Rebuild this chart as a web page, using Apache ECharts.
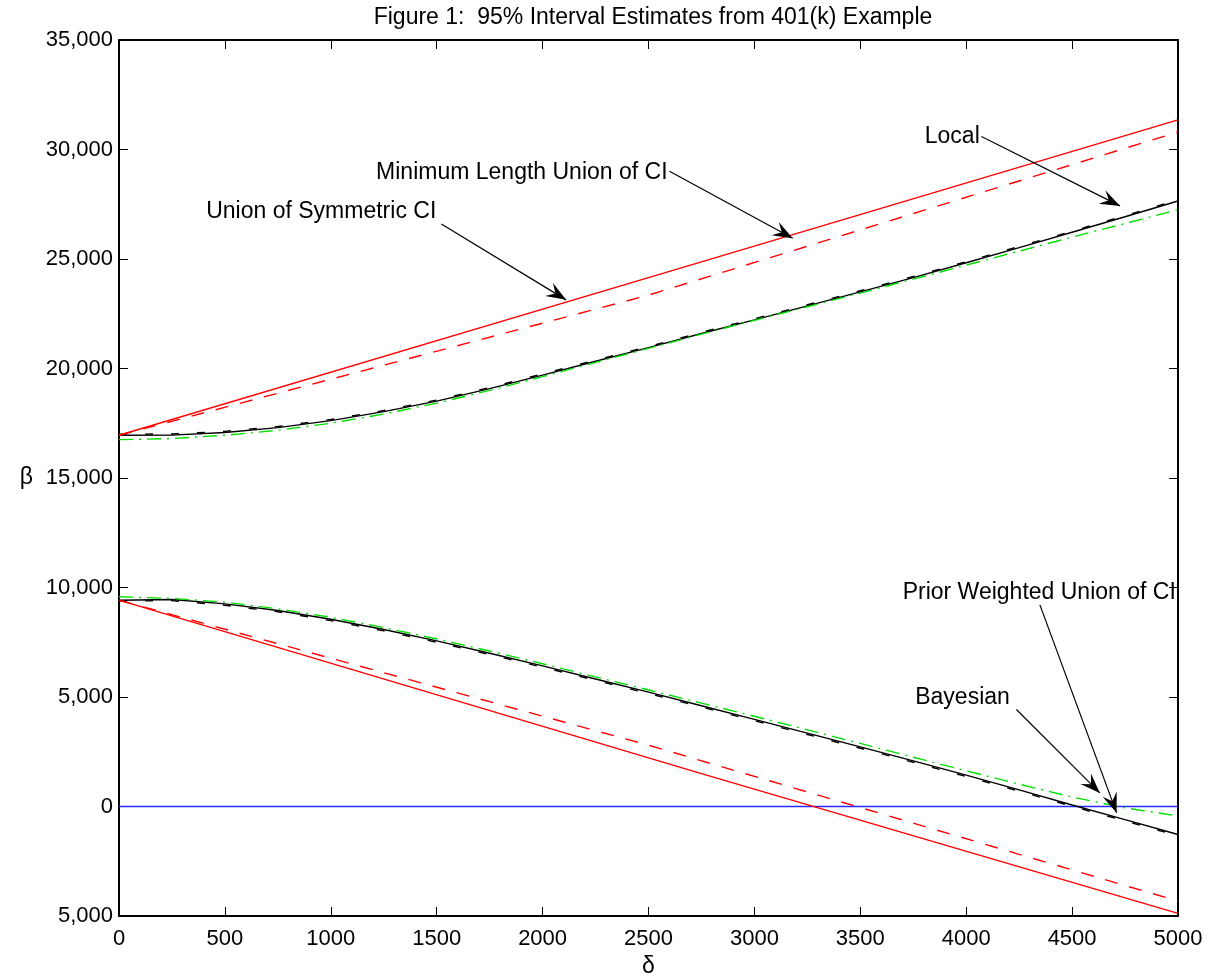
<!DOCTYPE html>
<html lang="en">
<head>
  <meta charset="UTF-8">
  <title>Figure 1</title>
  <style>
    html, body { margin: 0; padding: 0; background: #fff; }
    #main { width: 1219px; height: 977px; }
  </style>
</head>
<body>
<div id="main"></div>
<script src="https://cdn.jsdelivr.net/npm/echarts@6/dist/echarts.min.js"></script>
<script>
  // delta grid used by the curved bands
  var delta = [0, 250, 500, 750, 1000, 1250, 1500, 1750, 2000, 2250, 2500,
               2750, 3000, 3250, 3500, 3750, 4000, 4250, 4500, 4750, 5000];

  // upper bounds
  var upLocal      = [16950, 16960, 17080, 17300, 17620, 18030, 18510, 19080, 19700, 20330, 20950,
                      21600, 22220, 22860, 23500, 24150, 24830, 25520, 26220, 26930, 27650];
  var upPrior      = [17000, 17010, 17130, 17350, 17670, 18080, 18560, 19130, 19750, 20380, 21000,
                      21650, 22270, 22910, 23550, 24200, 24880, 25570, 26270, 26980, 27700];
  var upBayes      = [16750, 16800, 16950, 17180, 17500, 17920, 18420, 19000, 19630, 20280, 20920,
                      21570, 22200, 22820, 23440, 24080, 24720, 25360, 26000, 26620, 27250];
  // lower bounds
  var lowLocal     = [9420, 9450, 9250, 8950, 8550, 8080, 7560, 7000, 6420, 5820, 5220,
                      4600, 3980, 3350, 2720, 2080, 1430, 760, 70, -600, -1280];
  var lowPrior     = [9380, 9400, 9190, 8890, 8490, 8020, 7500, 6940, 6360, 5760, 5160,
                      4540, 3920, 3290, 2660, 2020, 1370, 700, 10, -660, -1340];
  var lowBayes     = [9580, 9500, 9330, 9030, 8640, 8170, 7650, 7100, 6520, 5920, 5320,
                      4720, 4120, 3500, 2880, 2250, 1630, 1020, 430, -60, -430];

  // straight union-of-CI bounds
  var symUpX   = [0, 2500, 5000];
  var symUp    = [16950, 24150, 31350];
  var minUpX   = [0, 2500, 5000];
  var minUp    = [16950, 23350, 30800];
  var symLowX  = [0, 2750, 5000];
  var symLow   = [9420, 1500, -4880];
  var minLowX  = [0, 2500, 5000];
  var minLow   = [9420, 2800, -4320];
  var zeroX    = [0, 5000];
  var zeroY    = [0, 0];

  // annotations (data coordinates)
  var noteText  = ['Local', 'Minimum Length Union of CI', 'Union of Symmetric CI',
                   'Prior Weighted Union of CI', 'Bayesian'];
  var noteAt    = [[4064, 30600], [2590, 28950], [1498, 27165], [3700, 9780], [4206, 4990]];
  var noteAlign = ['right', 'right', 'right', 'left', 'right'];
  var noteTail  = [[4072, 30590], [2599, 29010], [1522, 26600], [4348, 9208], [4237, 4430]];
  var noteTip   = [[4726, 27425], [3181, 25950], [2111, 23134], [4710, -290], [4631, 620]];

  function zip(xs, ys) {
    var out = [];
    for (var i = 0; i < xs.length; i++) out.push([xs[i], ys[i]]);
    return out;
  }

  function line(data, color, type, z) {
    return {
      type: 'line', data: data, symbol: 'none', silent: true, z: z || 2,
      lineStyle: { color: color, width: 1.4, type: type }
    };
  }

  var font = 'Liberation Sans, Arial, Helvetica, sans-serif';
  var chart = echarts.init(document.getElementById('main'));

  var baseAxis = {
    type: 'value',
    axisLine: { show: true, onZero: false, lineStyle: { color: '#000', width: 2 } },
    axisTick: { show: true, inside: true, length: 9, lineStyle: { color: '#000', width: 1 } },
    splitLine: { show: false }
  };

  function fmtY(v) {
    return Math.abs(v).toString().replace(/\B(?=(\d{3})+(?!\d))/g, ',');
  }

  chart.setOption({
    animation: false,
    textStyle: { fontFamily: font },
    title: {
      text: 'Figure 1:  95% Interval Estimates from 401(k) Example',
      left: 648, top: 1, textAlign: 'center',
      textStyle: { fontSize: 23, fontWeight: 'normal', color: '#000', fontFamily: font }
    },
    grid: { left: 119, right: 41, top: 40, bottom: 61, outerBoundsMode: 'none' },
    xAxis: [
      Object.assign({}, baseAxis, {
        min: 0, max: 5000, interval: 500, position: 'bottom',
        axisLabel: { fontSize: 22, color: '#000', margin: 12, showMinLabel: true, showMaxLabel: true,
                     formatter: function (v) { return String(v); } },
        name: 'δ', nameLocation: 'middle', nameGap: 38,
        nameTextStyle: { fontSize: 23, color: '#000' }
      }),
      Object.assign({}, baseAxis, {
        min: 0, max: 5000, interval: 500, position: 'top', axisLabel: { show: false }
      })
    ],
    yAxis: [
      Object.assign({}, baseAxis, {
        min: -5000, max: 35000, interval: 5000, position: 'left',
        axisLabel: { fontSize: 22, color: '#000', margin: 6, formatter: fmtY,
                     showMinLabel: true, showMaxLabel: true },
        name: 'β', nameLocation: 'middle', nameGap: 86, nameRotate: 0,
        nameTextStyle: { fontSize: 23, color: '#000' }
      }),
      Object.assign({}, baseAxis, {
        min: -5000, max: 35000, interval: 5000, position: 'right', axisLabel: { show: false }
      })
    ],
    series: [
      line(zip(zeroX, zeroY), '#2a2aff', 'solid', 1),
      line(zip(delta, upPrior), '#000', [8, 18]),
      line(zip(delta, lowPrior), '#000', [8, 18]),
      line(zip(delta, upLocal), '#000', 'solid'),
      line(zip(delta, lowLocal), '#000', 'solid'),
      line(zip(delta, upBayes), '#00e000', [14, 6, 2, 6]),
      line(zip(delta, lowBayes), '#00e000', [14, 6, 2, 6]),
      line(zip(symUpX, symUp), '#ff0000', 'solid', 3),
      line(zip(symLowX, symLow), '#ff0000', 'solid', 3),
      line(zip(minUpX, minUp), '#ff0000', [13, 12], 3),
      line(zip(minLowX, minLow), '#ff0000', [13, 12], 3)
    ]
  });

  // annotation arrows, placed through the axes' own scale
  function px(p) { return chart.convertToPixel({ xAxisIndex: 0, yAxisIndex: 0 }, p); }

  function head(tip, tail) {
    var dx = tip[0] - tail[0], dy = tip[1] - tail[1];
    var d = Math.sqrt(dx * dx + dy * dy);
    var ux = dx / d, uy = dy / d, nx = -uy, ny = ux;
    var L = 20, W = 7.5;
    return [
      tip,
      [tip[0] - ux * L + nx * W, tip[1] - uy * L + ny * W],
      [tip[0] - ux * L * 0.62, tip[1] - uy * L * 0.62],
      [tip[0] - ux * L - nx * W, tip[1] - uy * L - ny * W]
    ];
  }

  var gfx = [];
  for (var i = 0; i < noteText.length; i++) {
    var at = px(noteAt[i]), tail = px(noteTail[i]), tip = px(noteTip[i]);
    gfx.push({
      type: 'text', x: at[0], y: at[1], z: 10, silent: true,
      style: { text: noteText[i], fill: '#000', font: '23px ' + font,
               align: noteAlign[i], verticalAlign: 'middle' }
    });
    gfx.push({
      type: 'line', z: 10, silent: true,
      shape: { x1: tail[0], y1: tail[1], x2: tip[0], y2: tip[1] },
      style: { stroke: '#000', lineWidth: 1.2 }
    });
    gfx.push({
      type: 'polygon', z: 10, silent: true,
      shape: { points: head(tip, tail) },
      style: { fill: '#000' }
    });
  }
  chart.setOption({ graphic: gfx });
</script>
</body>
</html>
